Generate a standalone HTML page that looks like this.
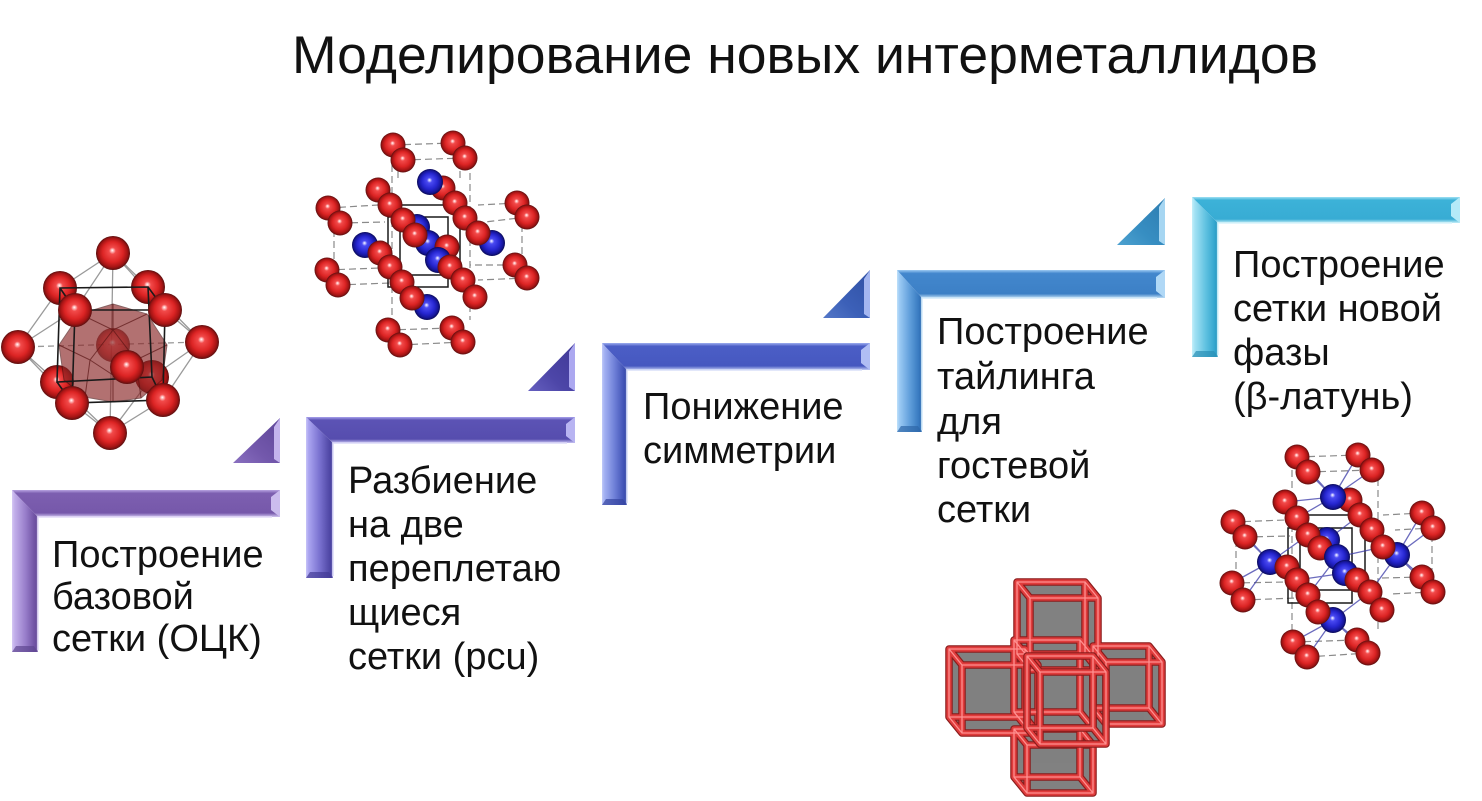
<!DOCTYPE html>
<html><head><meta charset="utf-8">
<style>
html,body{margin:0;padding:0;background:#fff;}
svg{display:block;}
text{font-family:"Liberation Sans","DejaVu Sans",sans-serif;fill:#111;}
</style></head>
<body>
<svg width="1482" height="801" viewBox="0 0 1482 801" xmlns="http://www.w3.org/2000/svg">
<defs>
  <radialGradient id="rs" cx="0.5" cy="0.5" r="0.5" fx="0.48" fy="0.42">
    <stop offset="0" stop-color="#ffffff"/>
    <stop offset="0.08" stop-color="#ffb8b8"/>
    <stop offset="0.2" stop-color="#f24a4a"/>
    <stop offset="0.6" stop-color="#dc2424"/>
    <stop offset="0.85" stop-color="#a51414"/>
    <stop offset="1" stop-color="#5a1010"/>
  </radialGradient>
  <radialGradient id="bs" cx="0.5" cy="0.5" r="0.5" fx="0.48" fy="0.42">
    <stop offset="0" stop-color="#ffffff"/>
    <stop offset="0.08" stop-color="#b8b8ff"/>
    <stop offset="0.2" stop-color="#4a4af2"/>
    <stop offset="0.6" stop-color="#2626d0"/>
    <stop offset="0.85" stop-color="#16169a"/>
    <stop offset="1" stop-color="#0a0a55"/>
  </radialGradient>
  <linearGradient id="v1" x1="0" y1="0" x2="1" y2="0">
    <stop offset="0" stop-color="#d6c8f4"/><stop offset="0.1" stop-color="#c2aeea"/>
    <stop offset="0.5" stop-color="#9a80cc"/><stop offset="0.85" stop-color="#7254a6"/>
    <stop offset="0.94" stop-color="#6a4e9c"/><stop offset="1" stop-color="#d8ccf4"/>
  </linearGradient>
  <linearGradient id="h1" x1="0" y1="0" x2="0" y2="1">
    <stop offset="0" stop-color="#b8a4e2"/><stop offset="0.12" stop-color="#7d5fb0"/>
    <stop offset="0.85" stop-color="#7658aa"/><stop offset="1" stop-color="#d0c4f0"/>
  </linearGradient>
  <linearGradient id="v2" x1="0" y1="0" x2="1" y2="0">
    <stop offset="0" stop-color="#c8c4f8"/><stop offset="0.1" stop-color="#aaa4f0"/>
    <stop offset="0.5" stop-color="#7a72d0"/><stop offset="0.85" stop-color="#524aa8"/>
    <stop offset="0.94" stop-color="#4a42a0"/><stop offset="1" stop-color="#cccaf6"/>
  </linearGradient>
  <linearGradient id="h2" x1="0" y1="0" x2="0" y2="1">
    <stop offset="0" stop-color="#a8a2ec"/><stop offset="0.12" stop-color="#5c53b5"/>
    <stop offset="0.85" stop-color="#564dae"/><stop offset="1" stop-color="#c8c4f4"/>
  </linearGradient>
  <linearGradient id="v3" x1="0" y1="0" x2="1" y2="0">
    <stop offset="0" stop-color="#c0caf8"/><stop offset="0.1" stop-color="#a2b0f2"/>
    <stop offset="0.5" stop-color="#6f80d8"/><stop offset="0.85" stop-color="#4355b8"/>
    <stop offset="0.94" stop-color="#3b4dac"/><stop offset="1" stop-color="#c4cef6"/>
  </linearGradient>
  <linearGradient id="h3" x1="0" y1="0" x2="0" y2="1">
    <stop offset="0" stop-color="#9eaef0"/><stop offset="0.12" stop-color="#4b5ec6"/>
    <stop offset="0.85" stop-color="#4658c0"/><stop offset="1" stop-color="#c0cbf5"/>
  </linearGradient>
  <linearGradient id="v4" x1="0" y1="0" x2="1" y2="0">
    <stop offset="0" stop-color="#bfe0fa"/><stop offset="0.1" stop-color="#9ccaf4"/>
    <stop offset="0.5" stop-color="#62a0dc"/><stop offset="0.85" stop-color="#3a7cc2"/>
    <stop offset="0.94" stop-color="#3170b6"/><stop offset="1" stop-color="#c2e0f8"/>
  </linearGradient>
  <linearGradient id="h4" x1="0" y1="0" x2="0" y2="1">
    <stop offset="0" stop-color="#9ccaf2"/><stop offset="0.12" stop-color="#4287cd"/>
    <stop offset="0.85" stop-color="#3d80c6"/><stop offset="1" stop-color="#c0dff6"/>
  </linearGradient>
  <linearGradient id="v5" x1="0" y1="0" x2="1" y2="0">
    <stop offset="0" stop-color="#c4f0fa"/><stop offset="0.1" stop-color="#a4e2f4"/>
    <stop offset="0.5" stop-color="#64c4e2"/><stop offset="0.85" stop-color="#36a8d0"/>
    <stop offset="0.94" stop-color="#2c9cc4"/><stop offset="1" stop-color="#c8f0fa"/>
  </linearGradient>
  <linearGradient id="h5" x1="0" y1="0" x2="0" y2="1">
    <stop offset="0" stop-color="#a0e0f4"/><stop offset="0.12" stop-color="#3cb2d8"/>
    <stop offset="0.85" stop-color="#38acd4"/><stop offset="1" stop-color="#c4eef8"/>
  </linearGradient>
  <linearGradient id="t1" x1="1" y1="0" x2="0" y2="1">
    <stop offset="0" stop-color="#5e4698"/><stop offset="0.6" stop-color="#7358ac"/><stop offset="1" stop-color="#8a70c0"/>
  </linearGradient>
  <linearGradient id="t2" x1="1" y1="0" x2="0" y2="1">
    <stop offset="0" stop-color="#3f3896"/><stop offset="0.6" stop-color="#4d46a8"/><stop offset="1" stop-color="#6660c0"/>
  </linearGradient>
  <linearGradient id="t3" x1="1" y1="0" x2="0" y2="1">
    <stop offset="0" stop-color="#2f50a4"/><stop offset="0.6" stop-color="#3c60b8"/><stop offset="1" stop-color="#5478c8"/>
  </linearGradient>
  <linearGradient id="t4" x1="1" y1="0" x2="0" y2="1">
    <stop offset="0" stop-color="#2c7cb0"/><stop offset="0.6" stop-color="#378ec2"/><stop offset="1" stop-color="#4ea2d0"/>
  </linearGradient>
  <path id="cbk" d="M1027 656 H1093 V728 H1027 Z M1014 640 H1080 V712 H1014 Z M1027 656 L1014 640 M1093 656 L1080 640 M1027 728 L1014 712 M1093 728 L1080 712"/>
  <path id="ctp" d="M1030 598 H1098 V670 H1030 Z M1017 582 H1085 V654 H1017 Z M1030 598 L1017 582 M1098 598 L1085 582 M1030 670 L1017 654 M1098 670 L1085 654"/>
  <path id="clf" d="M962 665 H1038 V733 H962 Z M949 649 H1025 V717 H949 Z M962 665 L949 649 M1038 665 L1025 649 M962 733 L949 717 M1038 733 L1025 717"/>
  <path id="crt" d="M1106 662 H1162 V724 H1106 Z M1093 646 H1149 V708 H1093 Z M1106 662 L1093 646 M1162 662 L1149 646 M1106 724 L1093 708 M1162 724 L1149 708"/>
  <path id="cbt" d="M1027 745 H1093 V793 H1027 Z M1014 729 H1080 V777 H1014 Z M1027 745 L1014 729 M1093 745 L1080 729 M1027 793 L1014 777 M1093 793 L1080 777"/>
  <path id="cct" d="M1040 672 H1106 V744 H1040 Z M1027 656 H1093 V728 H1027 Z M1040 672 L1027 656 M1106 672 L1093 656 M1040 744 L1027 728 M1106 744 L1093 728"/>
</defs>

<rect width="1482" height="801" fill="#fff"/>

<text x="292" y="73" font-size="53" textLength="1026" lengthAdjust="spacingAndGlyphs">Моделирование новых интерметаллидов</text>

<!-- Step 1 -->
<g>
  <polygon points="12,490 38,517 38,652 12,652" fill="url(#v1)"/>
  <polygon points="12,490 280,490 280,517 38,517" fill="url(#h1)"/>
  <polygon points="271,497 280,490 280,517 271,510" fill="#cbbcee"/>
  <polygon points="12,652 38,652 34,646 16,646" fill="#5e4690" opacity="0.7"/>
  <polyline points="38,650 38,517 272,517" fill="none" stroke="#e4dcf8" stroke-width="1.5"/>
  <polygon points="233,463 280,463 280,418" fill="url(#t1)"/>
  <polygon points="274,427 280,418 280,463 274,459" fill="#c4b4ec"/>
</g>
<!-- Step 2 -->
<g>
  <polygon points="306,417 333,443 333,578 306,578" fill="url(#v2)"/>
  <polygon points="306,417 575,417 575,443 333,443" fill="url(#h2)"/>
  <polygon points="566,424 575,417 575,443 566,436" fill="#b8b4f2"/>
  <polygon points="306,578 333,578 329,572 310,572" fill="#433a95" opacity="0.7"/>
  <polyline points="333,576 333,443 567,443" fill="none" stroke="#dcdaf8" stroke-width="1.5"/>
  <polygon points="528,391 575,391 575,343" fill="url(#t2)"/>
  <polygon points="569,352 575,343 575,391 569,387" fill="#aca8f0"/>
</g>
<!-- Step 3 -->
<g>
  <polygon points="602,343 627,370 627,505 602,505" fill="url(#v3)"/>
  <polygon points="602,343 870,343 870,370 627,370" fill="url(#h3)"/>
  <polygon points="861,350 870,343 870,370 861,363" fill="#b0bef4"/>
  <polygon points="602,505 627,505 623,499 606,499" fill="#3444a0" opacity="0.7"/>
  <polyline points="627,503 627,370 862,370" fill="none" stroke="#d8dff8" stroke-width="1.5"/>
  <polygon points="823,318 870,318 870,270" fill="url(#t3)"/>
  <polygon points="864,279 870,270 870,318 864,314" fill="#a4b6f0"/>
</g>
<!-- Step 4 -->
<g>
  <polygon points="897,270 922,298 922,432 897,432" fill="url(#v4)"/>
  <polygon points="897,270 1165,270 1165,298 922,298" fill="url(#h4)"/>
  <polygon points="1156,277 1165,270 1165,298 1156,291" fill="#b0d8f6"/>
  <polygon points="897,432 922,432 918,426 901,426" fill="#2d66a8" opacity="0.7"/>
  <polyline points="922,430 922,298 1157,298" fill="none" stroke="#d4eafa" stroke-width="1.5"/>
  <polygon points="1117,245 1165,245 1165,198" fill="url(#t4)"/>
  <polygon points="1159,207 1165,198 1165,245 1159,241" fill="#a6d6f2"/>
</g>
<!-- Step 5 -->
<g>
  <polygon points="1192,197 1218,223 1218,357 1192,357" fill="url(#v5)"/>
  <polygon points="1192,197 1460,197 1460,223 1218,223" fill="url(#h5)"/>
  <polygon points="1451,204 1460,197 1460,223 1451,216" fill="#b4eaf8"/>
  <polygon points="1192,357 1218,357 1214,351 1196,351" fill="#2a8fb5" opacity="0.7"/>
  <polyline points="1218,355 1218,223 1452,223" fill="none" stroke="#d8f4fb" stroke-width="1.5"/>
</g>

<g font-size="38">
  <text x="52" y="567">Построение</text>
  <text x="52" y="609">базовой</text>
  <text x="52" y="651">сетки (ОЦК)</text>

  <text x="348" y="493">Разбиение</text>
  <text x="348" y="537">на две</text>
  <text x="348" y="581">переплетаю</text>
  <text x="348" y="625">щиеся</text>
  <text x="348" y="669">сетки (pcu)</text>

  <text x="643" y="419">Понижение</text>
  <text x="643" y="463">симметрии</text>

  <text x="937" y="344">Построение</text>
  <text x="937" y="389">тайлинга</text>
  <text x="937" y="434">для</text>
  <text x="937" y="478">гостевой</text>
  <text x="937" y="522">сетки</text>

  <text x="1233" y="277">Построение</text>
  <text x="1233" y="321">сетки новой</text>
  <text x="1233" y="365">фазы</text>
  <text x="1233" y="409">(β-латунь)</text>
</g>

<!-- Molecule 1 -->
<g>
  <g stroke="#9a9a9a" stroke-width="1.3" fill="none">
    <path d="M113 253 L60 288 M113 253 L148 287 M113 253 L75 310 M113 253 L165 310 M18 347 L60 288 M18 347 L75 310 M18 347 L57 382 M18 347 L72 403 M202 342 L148 287 M202 342 L165 310 M202 342 L152 377 M202 342 L163 400 M110 433 L57 382 M110 433 L72 403 M110 433 L152 377 M110 433 L163 400 M113 253 L110 433"/>
    <path d="M18 347 L202 342" stroke-dasharray="6 4"/>
  </g>
  <circle cx="60" cy="288" r="17" fill="url(#rs)"/>
  <circle cx="148" cy="287" r="17" fill="url(#rs)"/>
  <circle cx="113" cy="253" r="17" fill="url(#rs)"/>
  <circle cx="18" cy="347" r="17" fill="url(#rs)"/>
  <circle cx="202" cy="342" r="17" fill="url(#rs)"/>
  <circle cx="57" cy="382" r="17" fill="url(#rs)"/>
  <circle cx="152" cy="377" r="17" fill="url(#rs)"/>
  <circle cx="113" cy="345" r="17" fill="url(#rs)" opacity="0.8"/>
  <polygon points="80,314 113,304 147,314 167,345 162,380 141,398 113,402 85,397 64,380 59,345" fill="#8a2626" opacity="0.65" stroke="#4a1010" stroke-width="1"/>
  <path d="M80 314 L113 330 L147 314 M113 330 L113 304 M59 345 L90 360 L113 330 M167 345 L136 360 L113 330 M90 360 L85 397 M136 360 L141 398 M90 360 L113 375 L136 360 M113 375 L113 402" stroke="#5a1515" stroke-width="1" fill="none" opacity="0.7"/>
  <g stroke="#1a1a1a" stroke-width="1.6" fill="none">
    <path d="M60 288 L148 287 L152 377 L57 382 Z M75 310 L165 310 L163 400 L72 403 Z M60 288 L75 310 M148 287 L165 310 M57 382 L72 403 M152 377 L163 400"/>
  </g>
  <circle cx="75" cy="310" r="17" fill="url(#rs)"/>
  <circle cx="165" cy="310" r="17" fill="url(#rs)"/>
  <circle cx="127" cy="367" r="17" fill="url(#rs)"/>
  <circle cx="72" cy="403" r="17" fill="url(#rs)"/>
  <circle cx="163" cy="400" r="17" fill="url(#rs)"/>
  <circle cx="110" cy="433" r="17" fill="url(#rs)"/>
</g>

<!-- Molecule 2 -->
<g>
  <g stroke="#8a8a8a" stroke-width="1.2" fill="none" stroke-dasharray="7 4">
    <path d="M393 145 L453 143 M403 160 L465 158 M328 208 L378 205 M340 223 L385 222 M517 203 L478 205 M527 217 L485 222 M327 270 L380 268 M338 285 L390 283 M515 265 L470 265 M527 278 L478 280 M388 330 L452 328 M400 345 L463 342"/>
    <path d="M392 165 L392 322 M470 162 L470 320 M334 230 L334 265 M522 225 L522 262 M398 160 L398 182 M460 160 L460 182"/>
  </g>
  <g stroke="#1a1a1a" stroke-width="1.5" fill="none">
    <path d="M400 205 L460 205 L460 275 L400 275 Z M388 217 L448 217 L448 287 L388 287 Z"/>
  </g>
  <g fill="url(#rs)">
    <circle cx="393" cy="145" r="12.5"/><circle cx="403" cy="160" r="12.5"/>
    <circle cx="453" cy="143" r="12.5"/><circle cx="465" cy="158" r="12.5"/>
    <circle cx="328" cy="208" r="12.5"/><circle cx="340" cy="223" r="12.5"/>
    <circle cx="517" cy="203" r="12.5"/><circle cx="527" cy="217" r="12.5"/>
    <circle cx="327" cy="270" r="12.5"/><circle cx="338" cy="285" r="12.5"/>
    <circle cx="515" cy="265" r="12.5"/><circle cx="527" cy="278" r="12.5"/>
    <circle cx="388" cy="330" r="12.5"/><circle cx="400" cy="345" r="12.5"/>
    <circle cx="452" cy="328" r="12.5"/><circle cx="463" cy="342" r="12.5"/>
  </g>
  <circle cx="417" cy="227" r="13" fill="url(#bs)"/>
  <circle cx="428" cy="243" r="13" fill="url(#bs)"/>
  <circle cx="492" cy="243" r="13" fill="url(#bs)"/>
  <g fill="url(#rs)">
    <circle cx="443" cy="188" r="12.5"/><circle cx="455" cy="203" r="12.5"/>
    <circle cx="465" cy="218" r="12.5"/><circle cx="478" cy="233" r="12.5"/>
  </g>
  <circle cx="430" cy="182" r="13" fill="url(#bs)"/>
  <g fill="url(#rs)">
    <circle cx="378" cy="190" r="12.5"/><circle cx="390" cy="205" r="12.5"/>
    <circle cx="403" cy="220" r="12.5"/><circle cx="415" cy="235" r="12.5"/>
    <circle cx="447" cy="247" r="12.5"/>
  </g>
  <circle cx="438" cy="260" r="13" fill="url(#bs)"/>
  <circle cx="365" cy="245" r="13" fill="url(#bs)"/>
  <circle cx="427" cy="307" r="13" fill="url(#bs)"/>
  <g fill="url(#rs)">
    <circle cx="450" cy="267" r="12.5"/>
    <circle cx="380" cy="253" r="12.5"/><circle cx="390" cy="267" r="12.5"/>
    <circle cx="402" cy="282" r="12.5"/><circle cx="412" cy="298" r="12.5"/>
    <circle cx="463" cy="280" r="12.5"/><circle cx="475" cy="297" r="12.5"/>
  </g>
</g>

<!-- Molecule 3 -->
<g>
  <g stroke="#8a8a8a" stroke-width="1.2" fill="none" stroke-dasharray="7 4">
    <path d="M1297 457 L1358 455 M1308 472 L1372 470 M1233 522 L1285 520 M1245 537 L1290 536 M1422 513 L1383 515 M1433 528 L1395 530 M1232 583 L1287 582 M1243 600 L1297 598 M1422 577 L1382 578 M1433 592 L1390 594 M1293 642 L1357 640 M1307 657 L1368 653"/>
    <path d="M1292 470 L1292 630 M1378 468 L1378 630 M1236 540 L1236 578 M1432 535 L1432 575"/>
  </g>
  <g stroke="#1a1a1a" stroke-width="1.5" fill="none">
    <path d="M1300 515 L1365 515 L1365 590 L1300 590 Z M1288 528 L1352 528 L1352 603 L1288 603 Z"/>
  </g>
  <g stroke="#3a3aa8" stroke-width="1.3" fill="none" opacity="0.75">
    <path d="M1333 497 L1308 472 M1333 497 L1372 470 M1333 497 L1297 457 M1333 497 L1358 455 M1333 497 L1285 502 M1333 497 L1297 518 M1333 497 L1360 515 M1333 497 L1350 500"/>
    <path d="M1270 562 L1245 537 M1270 562 L1243 600 M1270 562 L1233 522 M1270 562 L1232 583 M1270 562 L1297 580 M1270 562 L1308 535"/>
    <path d="M1397 555 L1433 528 M1397 555 L1433 592 M1397 555 L1422 513 M1397 555 L1422 577 M1397 555 L1370 592 M1397 555 L1372 530"/>
    <path d="M1333 620 L1307 657 M1333 620 L1368 653 M1333 620 L1293 642 M1333 620 L1357 640 M1333 620 L1318 612 M1333 620 L1370 592"/>
    <path d="M1327 540 L1297 518 M1327 540 L1360 515 M1337 557 L1308 595 M1345 573 L1382 610 M1345 573 L1297 580 M1337 557 L1383 547"/>
  </g>
  <g fill="url(#rs)">
    <circle cx="1297" cy="457" r="12.5"/><circle cx="1308" cy="472" r="12.5"/>
    <circle cx="1358" cy="455" r="12.5"/><circle cx="1372" cy="470" r="12.5"/>
    <circle cx="1233" cy="522" r="12.5"/><circle cx="1245" cy="537" r="12.5"/>
    <circle cx="1422" cy="513" r="12.5"/><circle cx="1433" cy="528" r="12.5"/>
    <circle cx="1232" cy="583" r="12.5"/><circle cx="1243" cy="600" r="12.5"/>
    <circle cx="1422" cy="577" r="12.5"/><circle cx="1433" cy="592" r="12.5"/>
    <circle cx="1293" cy="642" r="12.5"/><circle cx="1307" cy="657" r="12.5"/>
    <circle cx="1357" cy="640" r="12.5"/><circle cx="1368" cy="653" r="12.5"/>
  </g>
  <circle cx="1327" cy="540" r="13" fill="url(#bs)"/>
  <circle cx="1397" cy="555" r="13" fill="url(#bs)"/>
  <g fill="url(#rs)">
    <circle cx="1350" cy="500" r="12.5"/><circle cx="1360" cy="515" r="12.5"/>
    <circle cx="1372" cy="530" r="12.5"/><circle cx="1383" cy="547" r="12.5"/>
  </g>
  <circle cx="1333" cy="497" r="13" fill="url(#bs)"/>
  <g fill="url(#rs)">
    <circle cx="1285" cy="502" r="12.5"/><circle cx="1297" cy="518" r="12.5"/>
    <circle cx="1308" cy="535" r="12.5"/><circle cx="1320" cy="548" r="12.5"/>
  </g>
  <circle cx="1337" cy="557" r="13" fill="url(#bs)"/>
  <circle cx="1345" cy="573" r="13" fill="url(#bs)"/>
  <circle cx="1270" cy="562" r="13" fill="url(#bs)"/>
  <circle cx="1333" cy="620" r="13" fill="url(#bs)"/>
  <g fill="url(#rs)">
    <circle cx="1287" cy="567" r="12.5"/><circle cx="1297" cy="580" r="12.5"/>
    <circle cx="1308" cy="595" r="12.5"/><circle cx="1318" cy="612" r="12.5"/>
    <circle cx="1357" cy="580" r="12.5"/><circle cx="1370" cy="592" r="12.5"/>
    <circle cx="1382" cy="610" r="12.5"/>
  </g>
</g>

<!-- Molecule 4 (cube tiling) -->
<g>
  <g fill="#505050" opacity="0.72">
    <polygon points="1014,640 1080,640 1093,656 1093,728 1027,728 1014,712"/>
    <polygon points="1017,582 1085,582 1098,598 1098,670 1030,670 1017,654"/>
    <polygon points="949,649 1025,649 1038,665 1038,733 962,733 949,717"/>
    <polygon points="1093,646 1149,646 1162,662 1162,724 1106,724 1093,708"/>
    <polygon points="1014,729 1080,729 1093,745 1093,793 1027,793 1014,777"/>
    <polygon points="1027,656 1093,656 1106,672 1106,744 1040,744 1027,728"/>
  </g>
  <g fill="none" stroke-linecap="round" stroke-linejoin="round">
    <g stroke="#8a1c1c" stroke-width="7.5">
      <use href="#cbk"/><use href="#ctp"/><use href="#clf"/><use href="#crt"/><use href="#cbt"/>
    </g>
    <g stroke="#e03c3c" stroke-width="5.2">
      <use href="#cbk"/><use href="#ctp"/><use href="#clf"/><use href="#crt"/><use href="#cbt"/>
    </g>
    <g stroke="#ff9090" stroke-width="1.3">
      <use href="#cbk"/><use href="#ctp"/><use href="#clf"/><use href="#crt"/><use href="#cbt"/>
    </g>
    <use href="#cct" stroke="#8a1c1c" stroke-width="7.5"/>
    <use href="#cct" stroke="#e03c3c" stroke-width="5.2"/>
    <use href="#cct" stroke="#ff9090" stroke-width="1.3"/>
  </g>
</g>
</svg>
</body></html>
